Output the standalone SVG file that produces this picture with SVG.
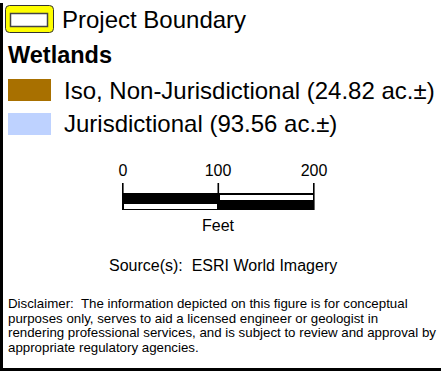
<svg xmlns="http://www.w3.org/2000/svg" width="441" height="371" viewBox="0 0 441 371">
<style>
text{font-family:"Liberation Sans",Arial,sans-serif;fill:#000}
.big{font-size:24px}
.mid{font-size:16px}
.small{font-size:13.3px}
</style>
<rect x="0" y="0" width="441" height="371" fill="#fff"/>
<rect x="0" y="3" width="3" height="368" fill="#000"/>
<rect x="0" y="368" width="441" height="3" fill="#000"/>
<g id="legend-project-boundary">
<rect x="5.5" y="5.5" width="48" height="27" rx="4" fill="#ffff00" stroke="#333" stroke-width="1"/>
<rect x="10.5" y="13.5" width="37" height="13" fill="#fff" stroke="#444" stroke-width="1.5"/>
<text class="big" x="62" y="28">Project Boundary</text>
</g>
<g id="legend-wetlands">
<text x="8" y="63" style="font-size:23.5px;font-weight:bold">Wetlands</text>
</g>
<g id="legend-iso">
<rect x="8" y="79" width="43" height="22" fill="#a87000"/>
<text class="big" x="64" y="99">Iso, Non-Jurisdictional (24.82 ac.±)</text>
</g>
<g id="legend-juris">
<rect x="8" y="113" width="43" height="22" fill="#bed2ff"/>
<text class="big" x="64" y="132">Jurisdictional (93.56 ac.±)</text>
</g>
<g id="scalebar">
<text class="mid" x="123" y="176" text-anchor="middle">0</text>
<text class="mid" x="218" y="176" text-anchor="middle">100</text>
<text class="mid" x="314" y="176" text-anchor="middle">200</text>
<rect x="122" y="193" width="96" height="9" fill="#000"/>
<rect x="218" y="193" width="96" height="17" fill="#000"/>
<rect x="220" y="195" width="93" height="5" fill="#fff"/>
<rect x="122" y="202" width="96" height="8" fill="#000"/>
<rect x="124" y="204" width="93" height="5" fill="#fff"/>
<rect x="122" y="183" width="1.6" height="27" fill="#000"/>
<rect x="217.5" y="183" width="1.6" height="27" fill="#000"/>
<rect x="313" y="183" width="1.6" height="27" fill="#000"/>
<text class="mid" x="218" y="231" text-anchor="middle">Feet</text>
</g>
<text class="mid" x="109" y="271" xml:space="preserve">Source(s):  ESRI World Imagery</text>
<g id="disclaimer">
<text class="small" x="8" y="308" xml:space="preserve">Disclaimer:  The information depicted on this figure is for conceptual</text>
<text class="small" x="8" y="322.5">purposes only, serves to aid a licensed engineer or geologist in</text>
<text class="small" x="8" y="337">rendering professional services, and is subject to review and approval by</text>
<text class="small" x="8" y="351.5">appropriate regulatory agencies.</text>
</g>
</svg>
